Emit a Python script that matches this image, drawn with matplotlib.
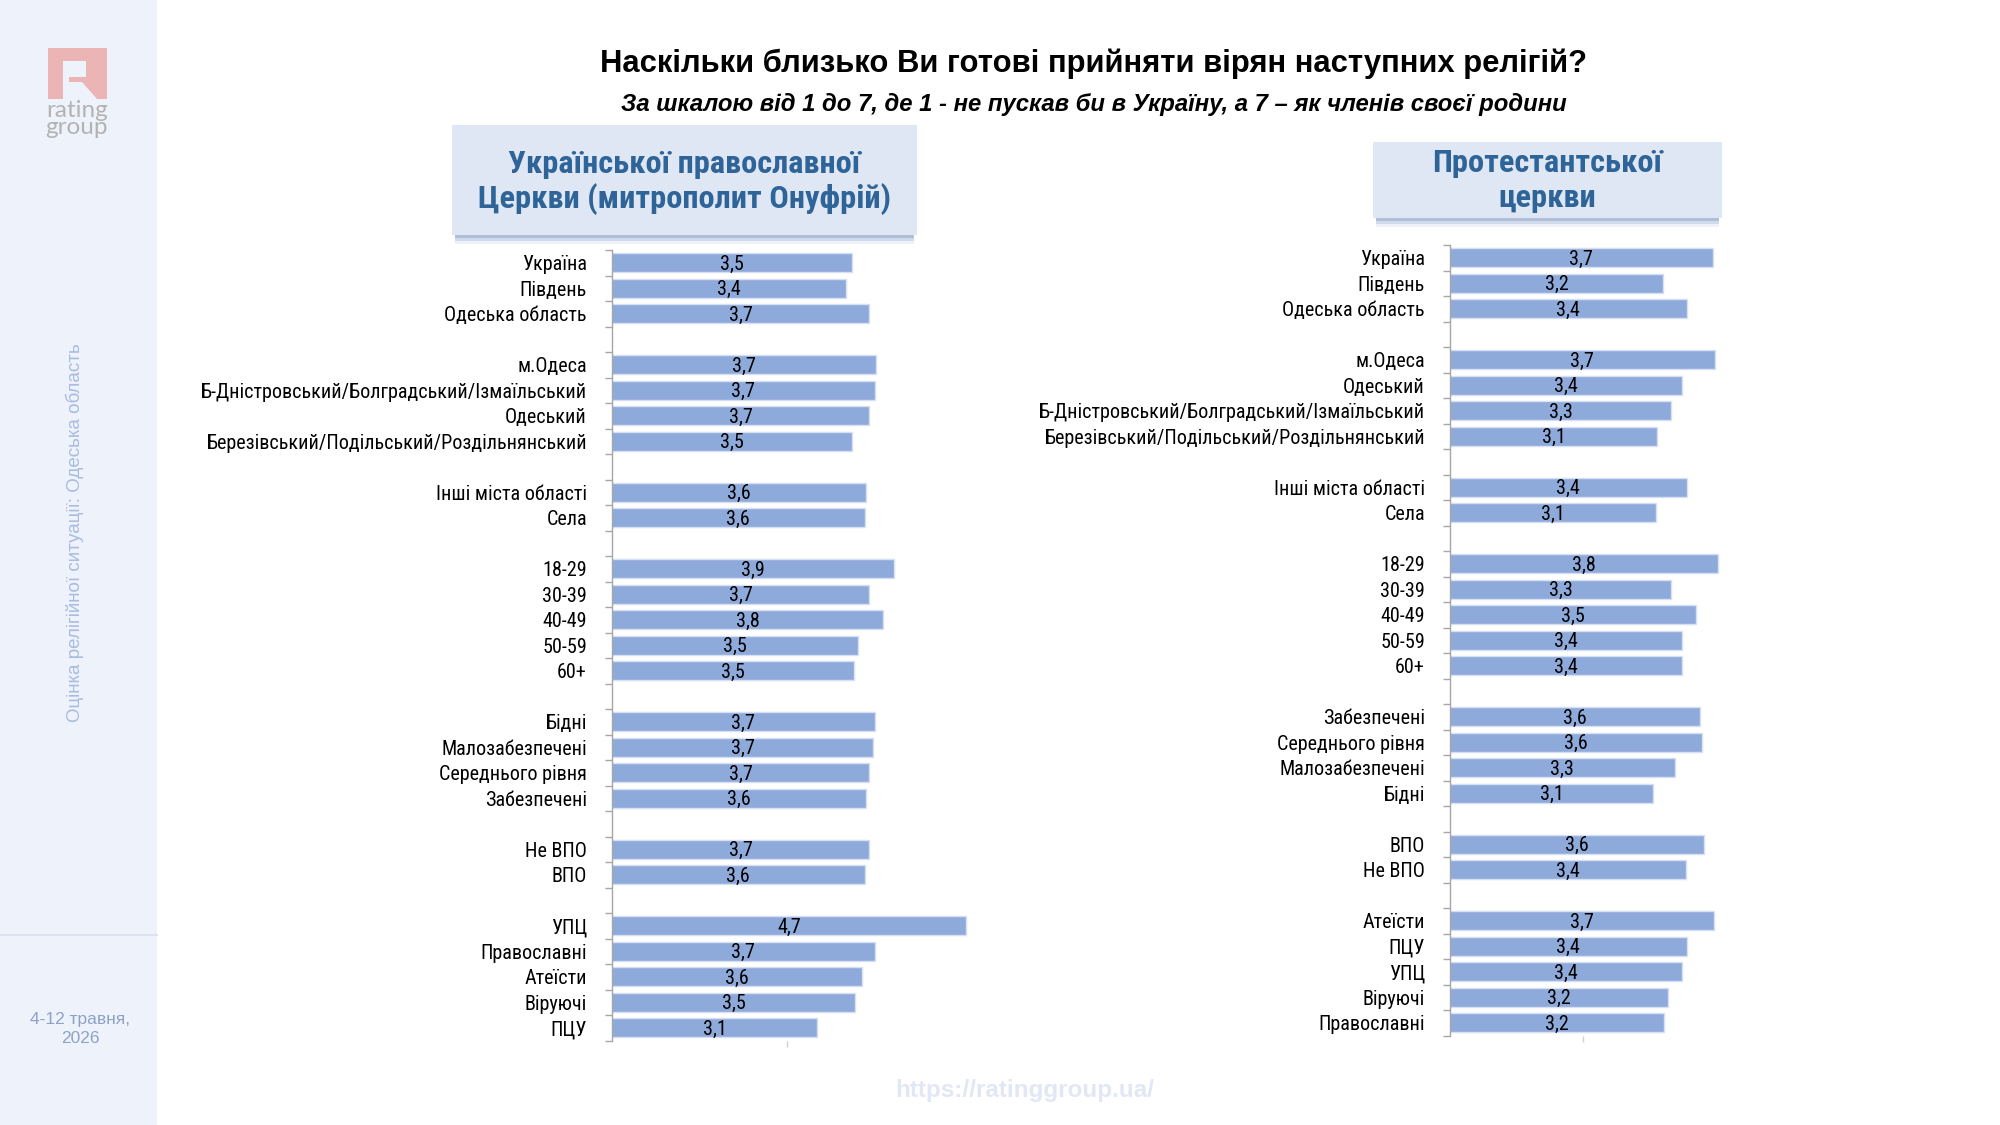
import numpy as np
import matplotlib.pyplot as plt
from matplotlib import font_manager as fm
from matplotlib.patches import Rectangle, Polygon
from matplotlib.lines import Line2D

# ---- data -------------------------------------------------------------
upc_labels = ['Україна', 'Південь', 'Одеська область', '',
              'м.Одеса', 'Б-Дністровський/Болградський/Ізмаїльський', 'Одеський',
              'Березівський/Подільський/Роздільнянський', '',
              'Інші міста області', 'Села', '',
              '18-29', '30-39', '40-49', '50-59', '60+', '',
              'Бідні', 'Малозабезпечені', 'Середнього рівня', 'Забезпечені', '',
              'Не ВПО', 'ВПО', '',
              'УПЦ', 'Православні', 'Атеїсти', 'Віруючі', 'ПЦУ']
upc_values = [3.48, 3.41, 3.66, np.nan,
              3.73, 3.72, 3.66, 3.47, np.nan,
              3.62, 3.61, np.nan,
              3.93, 3.66, 3.81, 3.54, 3.50, np.nan,
              3.72, 3.70, 3.66, 3.62, np.nan,
              3.66, 3.61, np.nan,
              4.70, 3.72, 3.58, 3.51, 3.10]

prot_labels = ['Україна', 'Південь', 'Одеська область', '',
               'м.Одеса', 'Одеський', 'Б-Дністровський/Болградський/Ізмаїльський',
               'Березівський/Подільський/Роздільнянський', '',
               'Інші міста області', 'Села', '',
               '18-29', '30-39', '40-49', '50-59', '60+', '',
               'Забезпечені', 'Середнього рівня', 'Малозабезпечені', 'Бідні', '',
               'ВПО', 'Не ВПО', '',
               'Атеїсти', 'ПЦУ', 'УПЦ', 'Віруючі', 'Православні']
prot_values = [3.72, 3.19, 3.44, np.nan,
               3.74, 3.39, 3.27, 3.12, np.nan,
               3.44, 3.11, np.nan,
               3.78, 3.27, 3.54, 3.39, 3.39, np.nan,
               3.58, 3.60, 3.31, 3.08, np.nan,
               3.63, 3.43, np.nan,
               3.73, 3.44, 3.39, 3.24, 3.20]

title = 'Наскільки близько Ви готові прийняти вірян наступних релігій?'
subtitle = 'За шкалою від 1 до 7, де 1 - не пускав би в Україну, а 7 – як членів своєї родини'
upc_header = 'Української православної\nЦеркви (митрополит Онуфрій)'
prot_header = 'Протестантської\nцеркви'

W, H = 2000, 1125
ARIAL = ['Liberation Sans', 'DejaVu Sans']

# look for a narrow font (Arial Narrow look); otherwise plain Liberation Sans, smaller
_names = {f.name for f in fm.fontManager.ttflist}
NARROW = None
for cand in ['Liberation Sans Narrow', 'Arial Narrow', 'Roboto Condensed',
             'Open Sans Condensed', 'DejaVu Sans Condensed']:
    if cand in _names:
        NARROW = [cand, 'DejaVu Sans']
        break
if NARROW is None:
    NARROW = ARIAL
    LBL_FS = 13.2
    HDR_FS = 20
else:
    LBL_FS = 14.5
    HDR_FS = 23.3

BAR = '#8eaadb'
AXC = '#a6a6a6'
PINK = '#ebb5b5'
SIDE = '#eef2fb'
XMIN, XMAX = 0.9, 5.0


def fx(x):
    return x / W


def fy(y):
    return 1 - y / H


def draw_panel(fig, left, top, labels, values, xtick):
    n = len(labels)
    row_h = 25.5
    width = (XMAX - XMIN) * 93.2
    ax = fig.add_axes([fx(left), fy(top + n * row_h), width / W, n * row_h / H])
    ax.patch.set_alpha(0)
    y = np.arange(n)
    vals = np.array(values)
    ax.barh(y, np.nan_to_num(vals), height=0.76, left=0, color=BAR,
            edgecolor='#d6e0f3', linewidth=1)
    for yi, v in zip(y, vals):
        if np.isnan(v):
            continue
        ax.text((XMIN + v) / 2, yi + 0.06, f'{v:.1f}'.replace('.', ','),
                ha='center', va='center', fontsize=LBL_FS, family=NARROW, color='black')
    ax.set_xlim(XMIN, XMAX)
    ax.set_ylim(n - 0.5, -0.5)
    ax.set_yticks(y)
    ax.set_yticklabels(labels, family=NARROW, fontsize=LBL_FS)
    ax.tick_params(axis='y', which='major', length=0, pad=18)
    ax.set_yticks(np.arange(n + 1) - 0.5, minor=True)
    ax.tick_params(axis='y', which='minor', length=5, width=1, color=AXC)
    ax.set_xticks([xtick])
    ax.set_xticklabels([''])
    ax.tick_params(axis='x', length=4, width=1, color='#d0d0d0')
    for s in ['top', 'right', 'bottom']:
        ax.spines[s].set_visible(False)
    ax.spines['left'].set_color(AXC)
    ax.spines['left'].set_linewidth(1)
    return ax


def rect(fig, x0, y0, x1, y1, **kw):
    r = Rectangle((fx(x0), fy(y1)), fx(x1 - x0), (y1 - y0) / H,
                  transform=fig.transFigure, edgecolor='none', **kw)
    fig.patches.append(r)


def header_box(fig, x0, y0, x1, y1, text, text_y):
    # soft shadow under the box
    for k, a in [(9, 0.15), (6, 0.3), (3, 0.5)]:
        rect(fig, x0 + 3, y0 + k, x1 - 3, y1 + k, facecolor='#8fa6cb', alpha=a)
    rect(fig, x0, y0, x1, y1, facecolor='#dfe7f4')
    fig.text(fx((x0 + x1) / 2), fy(text_y), text, ha='center', va='center',
             fontsize=HDR_FS, fontweight='bold', family=NARROW, color='#2f6499',
             linespacing=1.2)


fig = plt.figure(figsize=(20, 11.25), dpi=100)
fig.patch.set_facecolor('white')

# sidebar
rect(fig, 0, 0, 157, H, facecolor=SIDE)
fig.lines.append(Line2D([0, fx(157)], [fy(935), fy(935)], transform=fig.transFigure,
                        color='#dde3ee', linewidth=1.5))

# logo mark (block R): pink block with the background cut out
rect(fig, 48, 48, 107, 99, facecolor=PINK)
rect(fig, 63, 61, 69, 99, facecolor=SIDE)
rect(fig, 69, 61, 86, 77, facecolor=SIDE)
fig.patches.append(Polygon([(fx(69), fy(82)), (fx(82), fy(82)), (fx(97), fy(99)),
                            (fx(69), fy(99))], closed=True, transform=fig.transFigure,
                           facecolor=SIDE, edgecolor='none'))
fig.text(fx(77), fy(119), 'rating\ngroup', ha='center', va='center', fontsize=17.5,
         family=['Lato', 'DejaVu Sans'], color='#b3b3b3', linespacing=0.8)

fig.text(fx(75), fy(533), 'Оцінка релігійної ситуації: Одеська область', rotation=90,
         ha='center', va='center', fontsize=13.5, family=ARIAL, color='#a9bbdf')
fig.text(fx(80), fy(1029), '4-12 травня,\n2026', ha='center', va='center',
         fontsize=12.5, family=ARIAL, color='#8da2c6', linespacing=1.3)

# titles
fig.text(fx(1094), fy(64), title, ha='center', va='center', fontsize=22.3,
         fontweight='bold', family=ARIAL, color='black')
fig.text(fx(1094), fy(105), subtitle, ha='center', va='center', fontsize=17.2,
         fontweight='bold', style='italic', family=ARIAL, color='black')

header_box(fig, 452, 125, 917, 235, upc_header, 182)
header_box(fig, 1373, 142, 1722, 218, prot_header, 180.5)

draw_panel(fig, 612, 250, upc_labels, upc_values, 2.78)
draw_panel(fig, 1450, 245, prot_labels, prot_values, 2.33)

fig.text(fx(1025), fy(1091), 'https://ratinggroup.ua/', ha='center', va='center',
         fontsize=17.5, fontweight='bold', family=ARIAL, color='#e1e7f4')

plt.savefig('out.png', dpi=100)
